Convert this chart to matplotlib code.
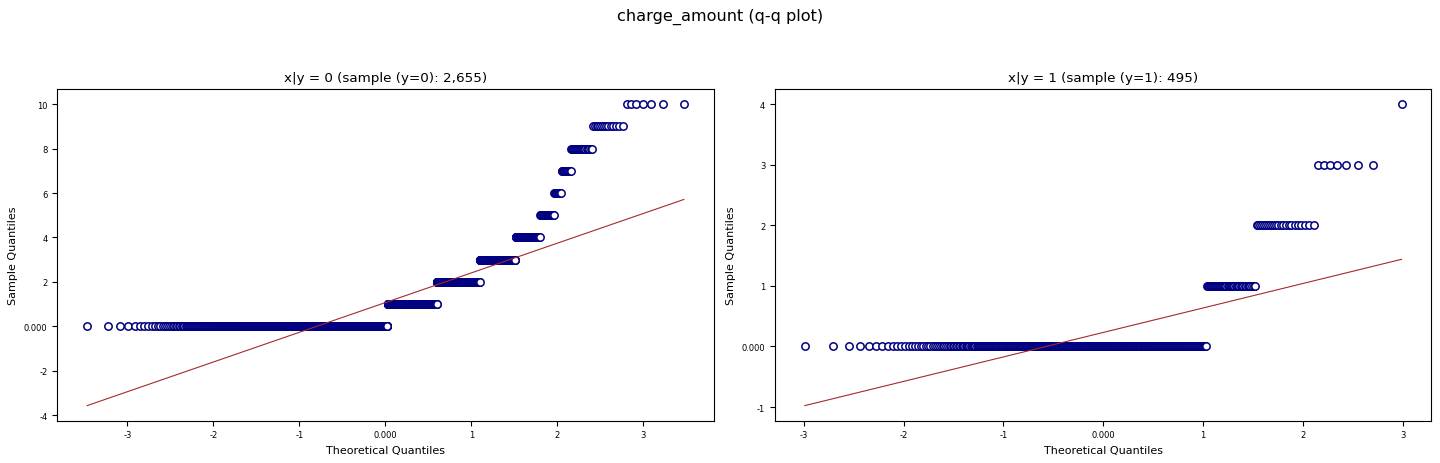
import matplotlib
matplotlib.use("Agg")
import matplotlib.pyplot as plt
from matplotlib.ticker import FuncFormatter
from statistics import NormalDist
import numpy as np

# charge_amount value counts per class
values_y0 = [0, 1, 2, 3, 4, 5, 6, 7, 8, 9, 10]
counts_y0 = [1352, 571, 369, 190, 77, 30, 12, 13, 20, 14, 7]

values_y1 = [0, 1, 2, 3, 4]
counts_y1 = [421, 43, 23, 7, 1]

panel_titles = ["x|y = 0 (sample (y=0): 2,655)", "x|y = 1 (sample (y=1): 495)"]


def probplot(sample):
    # same as scipy.stats.probplot: Filliben order statistic medians + LS fit
    y = np.sort(np.asarray(sample, dtype=float))
    n = len(y)
    m = (np.arange(1, n + 1) - 0.3175) / (n + 0.365)
    m[-1] = 0.5 ** (1.0 / n)
    m[0] = 1 - m[-1]
    nd = NormalDist()
    x = np.array([nd.inv_cdf(p) for p in m])
    slope, intercept = np.polyfit(x, y, 1)
    return x, y, slope, intercept


def tick_fmt(v, pos):
    if abs(v) < 1:
        return "%.3f" % v
    return "{:,.0f}".format(v)


fig = plt.figure(figsize=(14.4, 4.64), dpi=100)
ax1 = fig.add_axes([0.0398, 0.0912, 0.4558, 0.7149])
ax2 = fig.add_axes([0.5382, 0.0912, 0.4558, 0.7149])

samples = [np.repeat(values_y0, counts_y0), np.repeat(values_y1, counts_y1)]

for ax, sample, title in zip([ax1, ax2], samples, panel_titles):
    x, y, slope, intercept = probplot(sample)
    ax.plot(x, y, "o", markerfacecolor="white", markeredgecolor="navy",
            markersize=5.3, markeredgewidth=1.1)
    ax.plot(x, slope * x + intercept, color="#a52a2a", linewidth=0.8)
    ax.set_title(title, fontsize=9.7)
    ax.set_xlabel("Theoretical Quantiles", fontsize=8)
    ax.set_ylabel("Sample Quantiles", fontsize=8)
    ax.xaxis.set_major_formatter(FuncFormatter(tick_fmt))
    ax.yaxis.set_major_formatter(FuncFormatter(tick_fmt))
    ax.tick_params(labelsize=6)

fig.suptitle("charge_amount (q-q plot)", fontsize=11.6, y=0.98)
fig.savefig("out.png", dpi=100)
